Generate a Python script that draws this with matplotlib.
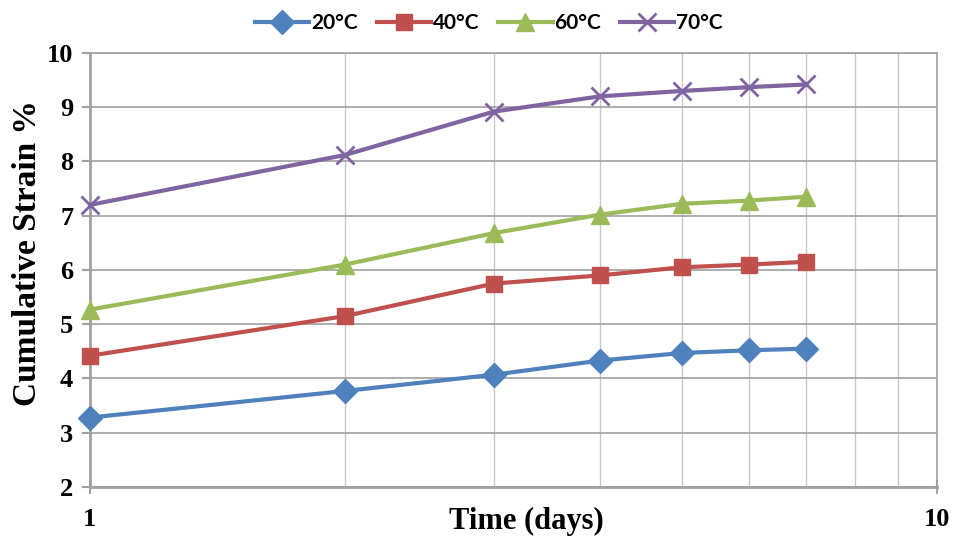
import numpy as np
import matplotlib.pyplot as plt
from matplotlib.ticker import FixedLocator, NullFormatter

days = [1, 2, 3, 4, 5, 6, 7]
strain_20 = [3.28, 3.77, 4.07, 4.33, 4.47, 4.52, 4.55]
strain_40 = [4.42, 5.15, 5.75, 5.90, 6.05, 6.10, 6.15]
strain_60 = [5.27, 6.10, 6.68, 7.02, 7.22, 7.28, 7.35]
strain_70 = [7.20, 8.12, 8.92, 9.20, 9.30, 9.37, 9.42]
labels = ['20°C', '40°C', '60°C', '70°C']

plt.rcParams['font.family'] = 'Liberation Serif'
plt.rcParams['font.weight'] = 'bold'

fig = plt.figure(figsize=(9.59, 5.38), dpi=100)
ax = fig.add_axes([0.0938, 0.0948, 0.883, 0.8067])

styles = [
    ('#4F81BD', 'D', 12),
    ('#C0504D', 's', 12),
    ('#9BBB59', '^', 13),
    ('#8064A2', 'x', 13),
]
for ys, lab, (c, m, ms) in zip([strain_20, strain_40, strain_60, strain_70], labels, styles):
    ax.plot(days, ys, color=c, lw=3, marker=m, markersize=ms, clip_on=False, zorder=3,
            markeredgewidth=2 if m == 'x' else 1, markeredgecolor=c, label=lab)

ax.set_xscale('log')
ax.set_xlim(1, 10)
ax.set_ylim(2, 10)
ax.xaxis.set_major_locator(FixedLocator([1, 10]))
ax.xaxis.set_minor_locator(FixedLocator(range(2, 10)))
ax.xaxis.set_minor_formatter(NullFormatter())
ax.set_xticklabels(['1', '10'])
ax.set_yticks(range(2, 11))

ax.grid(True, which='major', axis='y', color='#a0a0a0', lw=1.2)
ax.grid(True, which='minor', axis='x', color='#c8c8c8', lw=1.0)
ax.set_axisbelow(True)
for s in ax.spines.values():
    s.set_color('#a0a0a0')
    s.set_linewidth(1.2)
ax.spines['left'].set_linewidth(2)
ax.spines['bottom'].set_linewidth(2)

ax.tick_params(axis='both', which='major', color='#a0a0a0', length=6, width=1.5,
               labelsize=19)
ax.tick_params(axis='y', pad=6)
ax.tick_params(axis='x', which='minor', length=0)
ax.tick_params(axis='x', which='major', direction='inout', length=10, pad=10)

ax.set_ylabel('Cumulative Strain %', fontweight='bold', fontsize=24)
ax.yaxis.set_label_coords(-0.056, 0.54)
ax.set_xlabel('Time (days)', fontweight='bold', fontsize=22)
ax.xaxis.set_label_coords(0.515, -0.045)

fig.legend(loc='upper center', bbox_to_anchor=(0.51, 1.01), ncol=4, frameon=False,
           prop={'family': 'Lato', 'weight': 'bold', 'size': 15},
           handlelength=2.6, columnspacing=0.9, handletextpad=0.1)

plt.savefig('out.png', dpi=100)
